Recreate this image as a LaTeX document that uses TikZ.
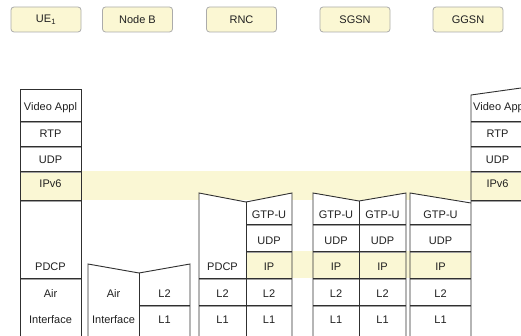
\documentclass[tikz,border=0pt]{standalone}
\usepackage{fontspec}
\setmainfont{Liberation Sans}
\definecolor{band}{HTML}{FAF7D4}
\definecolor{edge}{HTML}{303030}
\definecolor{shade}{HTML}{A0A0A0}
\definecolor{tagfill}{HTML}{FBF7D3}
\definecolor{tagedge}{HTML}{ABABAB}
\definecolor{ink}{HTML}{202020}
\begin{document}
\begin{tikzpicture}[x=1pt,y=-1pt,
  tag/.style={draw=tagedge, fill=tagfill, rounded corners=3pt, minimum width=70pt,
    minimum height=25pt, inner sep=0pt, line width=0.8pt, text=ink,
    font=\fontsize{11}{13}\selectfont},
  cell/.style={anchor=base, inner sep=0pt, text=ink, font=\fontsize{11}{13}\selectfont},
  outline/.style={draw=edge, line width=0.9pt, line join=miter},
  sep/.style={draw=edge, line width=0.9pt},
  sepshade/.style={draw=shade, line width=0.7pt}]
\useasboundingbox (0,0) rectangle (521,336);

% network element tags
\node[tag] (ue)    at (46,19.5)    {UE\textsubscript{1}};
\node[tag] (nodeb) at (137.5,19.5) {Node B};
\node[tag] (rnc)   at (241.5,19.5) {RNC};
\node[tag] (sgsn)  at (355,19.5)   {SGSN};
\node[tag] (ggsn)  at (468,19.5)   {GGSN};

% peer layer bands (IPv6 end to end, IP between RNC and GGSN)
\fill[band] (20,171) rectangle (521,200);
\fill[band] (246,251) rectangle (471,278);

% ---------- UE ----------
\fill[white] (20,89) rectangle (81,336);
\fill[band] (20,171) rectangle (81,200);
\foreach \y in {121,146,171,200,278} {
  \draw[sepshade] (20,\y+1.2) -- (81,\y+1.2);
  \draw[sep] (20,\y) -- (81,\y);
}
\draw[outline] (20,336) -- (20,89) -- (81,89) -- (81,336);

% ---------- Node B ----------
\fill[white] (88,336) -- (88,264) -- (139,273) -- (190,264) -- (190,336) -- cycle;
\draw[sepshade] (139,306.2) -- (190,306.2);
\draw[sep] (139,305) -- (190,305);
\draw[outline] (88,336) -- (88,264) -- (139,273) -- (190,264) -- (190,336);
\draw[outline] (139,273) -- (139,336);

% ---------- RNC ----------
\fill[white] (199,336) -- (199,193) -- (246,202) -- (292,193) -- (292,336) -- cycle;
\fill[band] (246,251) rectangle (292,278);
\foreach \y in {224,251} {
  \draw[sepshade] (246,\y+1.2) -- (292,\y+1.2);
  \draw[sep] (246,\y) -- (292,\y);
}
\foreach \y in {278,305} {
  \draw[sepshade] (199,\y+1.2) -- (292,\y+1.2);
  \draw[sep] (199,\y) -- (292,\y);
}
\draw[outline] (199,336) -- (199,193) -- (246,202) -- (292,193) -- (292,336);
\draw[outline] (246,202) -- (246,336);

% ---------- SGSN ----------
\fill[white] (313,336) -- (313,193) -- (359,201) -- (406,193) -- (406,336) -- cycle;
\fill[band] (313,251) rectangle (406,278);
\foreach \y in {224,251,278,305} {
  \draw[sepshade] (313,\y+1.2) -- (406,\y+1.2);
  \draw[sep] (313,\y) -- (406,\y);
}
\draw[outline] (313,336) -- (313,193) -- (359,201) -- (406,193) -- (406,336);
\draw[outline] (359,201) -- (359,336);

% ---------- GGSN ----------
\fill[white] (410,336) -- (410,193) -- (471,203) -- (471,95) -- (521,88) -- (521,336) -- cycle;
\fill[band] (410,251) rectangle (471,278);
\fill[band] (471,171) rectangle (521,200);
\foreach \y in {224,251,278,305} {
  \draw[sepshade] (410,\y+1.2) -- (471,\y+1.2);
  \draw[sep] (410,\y) -- (471,\y);
}
\foreach \y in {121,146,171,200} {
  \draw[sepshade] (471,\y+1.2) -- (521,\y+1.2);
  \draw[sep] (471,\y) -- (521,\y);
}
\draw[outline] (410,336) -- (410,193) -- (471,203);
\draw[outline] (521,88) -- (471,95) -- (471,336);

% ---------- layer names ----------
% UE
\node[cell] (ue-app)  at (50.5,111)   {Video Appl};
\node[cell] (ue-rtp)  at (50.5,138)   {RTP};
\node[cell] (ue-udp)  at (50.5,163.5) {UDP};
\node[cell] (ue-ip)   at (50.5,187.5) {IPv6};
\node[cell] (ue-pdcp) at (50.5,270)   {PDCP};
\node[cell] (ue-air)  at (50.5,297)   {Air};
\node[cell] (ue-if)   at (50.5,323)   {Interface};
% Node B
\node[cell] (nb-air)  at (113.5,297)  {Air};
\node[cell] (nb-if)   at (113.5,323)  {Interface};
\node[cell] (nb-l2)   at (164.5,297)  {L2};
\node[cell] (nb-l1)   at (164.5,323)  {L1};
% RNC
\node[cell] (rnc-pdcp) at (222.5,270) {PDCP};
\node[cell] (rnc-l2a)  at (222.5,297) {L2};
\node[cell] (rnc-l1a)  at (222.5,323) {L1};
\node[cell] (rnc-gtp)  at (269,219)   {GTP-U};
\node[cell] (rnc-udp)  at (269,244)   {UDP};
\node[cell] (rnc-ip)   at (269,270)   {IP};
\node[cell] (rnc-l2b)  at (269,297)   {L2};
\node[cell] (rnc-l1b)  at (269,323)   {L1};
% SGSN
\node[cell] (sg-gtpa) at (336,219)   {GTP-U};
\node[cell] (sg-udpa) at (336,244)   {UDP};
\node[cell] (sg-ipa)  at (336,270)   {IP};
\node[cell] (sg-l2a)  at (336,297)   {L2};
\node[cell] (sg-l1a)  at (336,323)   {L1};
\node[cell] (sg-gtpb) at (382.5,219) {GTP-U};
\node[cell] (sg-udpb) at (382.5,244) {UDP};
\node[cell] (sg-ipb)  at (382.5,270) {IP};
\node[cell] (sg-l2b)  at (382.5,297) {L2};
\node[cell] (sg-l1b)  at (382.5,323) {L1};
% GGSN
\node[cell] (gg-gtp)  at (440.5,219) {GTP-U};
\node[cell] (gg-udp)  at (440.5,244) {UDP};
\node[cell] (gg-ip)   at (440.5,270) {IP};
\node[cell] (gg-l2)   at (440.5,297) {L2};
\node[cell] (gg-l1)   at (440.5,323) {L1};
\node[cell, anchor=base west] (gg-app) at (473,111) {Video Appl};
\node[cell] (gg-rtp)  at (497.5,138)   {RTP};
\node[cell] (gg-udp2) at (497.5,163.5) {UDP};
\node[cell] (gg-ipv6) at (497.5,187.5) {IPv6};
\end{tikzpicture}
\end{document}
